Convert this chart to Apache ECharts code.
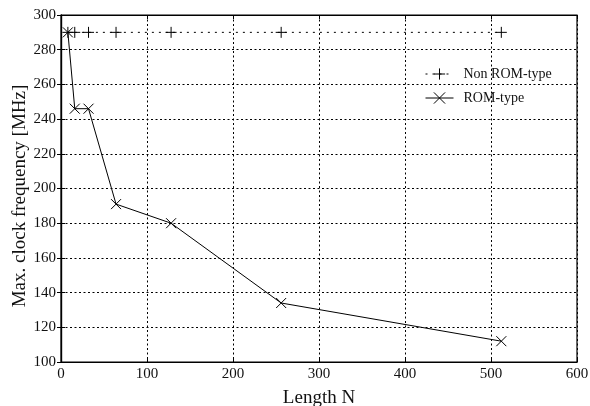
<!DOCTYPE html>
<html><head><meta charset="utf-8">
<script src="https://cdn.jsdelivr.net/npm/echarts@6/dist/echarts.min.js"></script>
<style>html,body{margin:0;padding:0;background:#fff}#c{width:590px;height:406px}</style>
</head><body><div id="c"></div>
<script>
const lengthN = [8, 16, 32, 64, 128, 256, 512];
const nonRomFreq = [290, 290, 290, 290, 290, 290, 290];
const romFreq = [290, 246, 246, 191, 180, 134, 112];
const xTicks = [0, 100, 200, 300, 400, 500, 600];
const yTicks = [100, 120, 140, 160, 180, 200, 220, 240, 260, 280, 300];
const yTitle = 'Max. clock frequency [MHz]';

const FONT = '"Liberation Serif", "DejaVu Serif", serif';
const plusPath = 'path://M5,0L5,10M0,5L10,5';
const crossPath = 'path://M0,0L10,10M10,0L0,10';
const dots = {color: '#000', type: [2, 2.5], width: 1};

const chart = echarts.init(document.getElementById('c'), null, {renderer: 'canvas'});
chart.setOption({
  animation: false,
  backgroundColor: '#fff',
  grid: {left: 61, top: 15, right: 13, bottom: 44, containLabel: false, outerBoundsMode: 'none',
         show: true, borderColor: '#000', borderWidth: 1.2, backgroundColor: 'transparent'},
  legend: {
    left: 425, top: 67, padding: 0, orient: 'vertical', itemGap: 10, itemWidth: 28, itemHeight: 14,
    textStyle: {fontFamily: FONT, fontSize: 14, color: '#111', padding: [0, 0, 0, 5]},
    lineStyle: {width: 1},
    itemStyle: {borderWidth: 1},
    data: ['Non ROM-type', 'ROM-type']
  },
  graphic: [{
    type: 'text', x: 20, y: 196, rotation: Math.PI / 2,
    style: {text: yTitle, x: 0, y: 0, align: 'center', verticalAlign: 'middle',
            font: '19px ' + FONT, fill: '#111'}
  }],
  xAxis: [{
    type: 'value', min: xTicks[0], max: xTicks[xTicks.length - 1], interval: 100,
    name: 'Length N', nameLocation: 'middle', nameGap: 27,
    nameTextStyle: {fontFamily: FONT, fontSize: 19, color: '#111'},
    axisLine: {show: true, onZero: false, lineStyle: {color: '#000', width: 1.2}},
    axisTick: {show: true, inside: true, length: 4, lineStyle: {color: '#000'}},
    axisLabel: {fontFamily: FONT, fontSize: 15, color: '#111', margin: 5},
    splitLine: {show: true, lineStyle: dots}
  }, {
    type: 'value', position: 'top', min: xTicks[0], max: xTicks[xTicks.length - 1], interval: 100,
    axisLine: {show: true, onZero: false, lineStyle: {color: '#000', width: 1.2}},
    axisTick: {show: true, inside: true, length: 4, lineStyle: {color: '#000'}},
    axisLabel: {show: false}, splitLine: {show: false}
  }],
  yAxis: [{
    type: 'value', min: yTicks[0], max: yTicks[yTicks.length - 1], interval: 20,
    axisLine: {show: true, lineStyle: {color: '#000', width: 1.2}},
    axisTick: {show: true, inside: true, length: 4, lineStyle: {color: '#000'}},
    axisLabel: {fontFamily: FONT, fontSize: 15, color: '#111', margin: 5},
    splitLine: {show: true, lineStyle: dots}
  }, {
    type: 'value', position: 'right', min: yTicks[0], max: yTicks[yTicks.length - 1], interval: 20,
    axisLine: {show: true, lineStyle: {color: '#000', width: 1.2}},
    axisTick: {show: true, inside: true, length: 4, lineStyle: {color: '#000'}},
    axisLabel: {show: false}, splitLine: {show: false}
  }],
  series: [
    {
      name: 'Non ROM-type', type: 'line',
      data: lengthN.map((n, i) => [n, nonRomFreq[i]]),
      symbol: plusPath, symbolSize: 11, showAllSymbol: true,
      lineStyle: {color: '#000', width: 1, type: [2, 5]},
      itemStyle: {color: 'rgba(0,0,0,0)', borderColor: '#000', borderWidth: 1}
    },
    {
      name: 'ROM-type', type: 'line',
      data: lengthN.map((n, i) => [n, romFreq[i]]),
      symbol: crossPath, symbolSize: 10, showAllSymbol: true,
      lineStyle: {color: '#000', width: 1},
      itemStyle: {color: 'rgba(0,0,0,0)', borderColor: '#000', borderWidth: 1}
    }
  ]
});
</script></body></html>
